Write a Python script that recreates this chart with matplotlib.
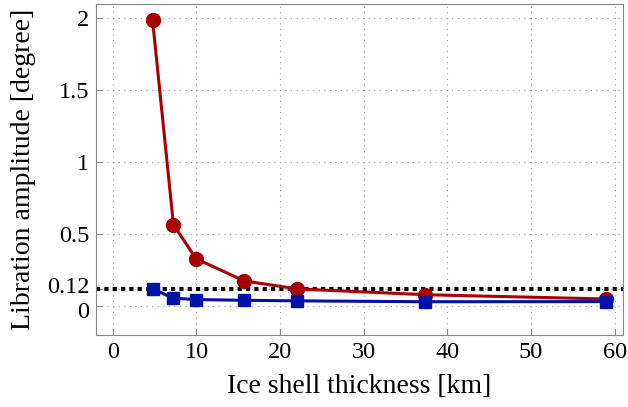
import matplotlib
matplotlib.use("Agg")
import matplotlib.pyplot as plt
import matplotlib.transforms as mtransforms

thickness = [4.75, 7.25, 9.95, 15.7, 22.05, 37.3, 59.0]
red_amp = [1.99, 0.567, 0.33, 0.176, 0.12, 0.08, 0.05]
blue_amp = [0.12, 0.056, 0.046, 0.041, 0.037, 0.031, 0.032]
threshold = 0.12
xticks = [0, 10, 20, 30, 40, 50, 60]
yticks = [0, 0.12, 0.5, 1, 1.5, 2]
yticklabels = ["0", "0.12", "0.5", "1", "1.5", "2"]

plt.rcParams['font.family'] = ['Liberation Serif', 'DejaVu Serif']
fig = plt.figure(figsize=(6.28, 4.07), dpi=100)
ax = fig.add_axes([0.153, 0.177, 0.839, 0.813])

ax.axhline(threshold, color='black', lw=3, ls=(0, (1, 1)), zorder=2)
ax.plot(thickness, red_amp, color='#a80000', lw=2.2, marker='o', ms=10,
        markerfacecolor='#a80000', markeredgecolor='#a80000', zorder=3)
ax.plot(thickness, blue_amp, color='#0010a8', lw=2.2, marker='s', ms=8,
        markerfacecolor='#0010a8', markeredgecolor='#0010a8', zorder=3)

ax.set_xlim(-2, 61)
ax.set_ylim(-0.2, 2.1)
ax.set_xticks(xticks)
ax.set_yticks(yticks)
ax.set_yticklabels(yticklabels)
ax.grid(True, color='#999999', ls=(0, (1, 4)), lw=0.8)
ax.tick_params(direction='in', colors='#888888', labelcolor='black', labelsize=17.5, length=4, pad=5)
for s in ax.spines.values():
    s.set_color('#888888')
ax.set_xlabel('Ice shell thickness [km]', fontsize=20, labelpad=8)
ax.set_ylabel('Libration amplitude [degree]', fontsize=20, labelpad=8)

# small vertical nudges so the two close labels do not collide
for lbl in ax.get_yticklabels():
    t = lbl.get_text()
    if t == "0.12":
        lbl.set_transform(lbl.get_transform() + mtransforms.ScaledTranslation(0, 2.5 / 72, fig.dpi_scale_trans))
    elif t == "0":
        lbl.set_transform(lbl.get_transform() + mtransforms.ScaledTranslation(0, -2.5 / 72, fig.dpi_scale_trans))

fig.savefig('out.png', dpi=100)
